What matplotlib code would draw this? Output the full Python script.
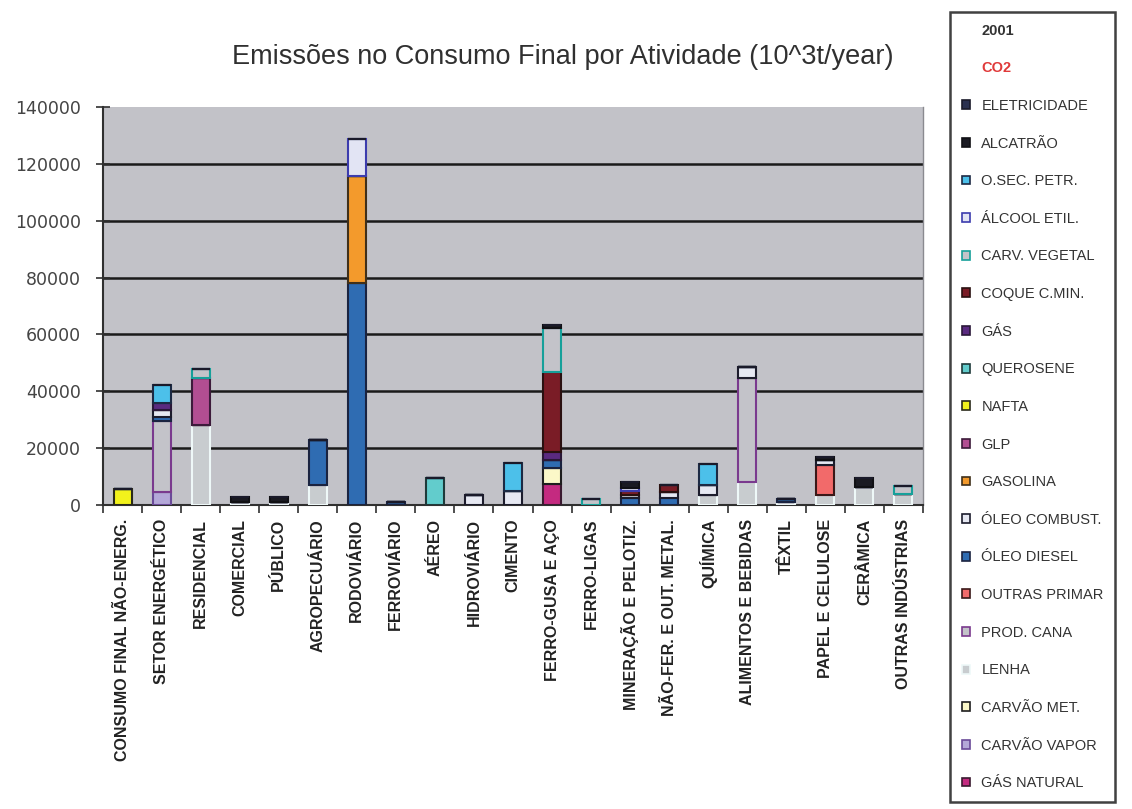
import matplotlib
matplotlib.use("Agg")
from matplotlib import pyplot as plt
from matplotlib.patches import Patch
import numpy as np

categories = [
    "CONSUMO FINAL NÃO-ENERG.", "SETOR ENERGÉTICO", "RESIDENCIAL", "COMERCIAL",
    "PÚBLICO", "AGROPECUÁRIO", "RODOVIÁRIO", "FERROVIÁRIO", "AÉREO",
    "HIDROVIÁRIO", "CIMENTO", "FERRO-GUSA E AÇO", "FERRO-LIGAS",
    "MINERAÇÃO E PELOTIZ.", "NÃO-FER. E OUT. METAL.", "QUÍMICA",
    "ALIMENTOS E BEBIDAS", "TÊXTIL", "PAPEL E CELULOSE", "CERÂMICA",
    "OUTRAS INDÚSTRIAS",
]

# CO2 emissions 2001 (10^3 t/year), one list per fuel, in category order
gas_natural   = [0, 0, 0, 0, 0, 0, 0, 0, 0, 0, 0, 7500, 0, 0, 0, 0, 0, 0, 0, 0, 0]
carvao_vapor  = [0, 4500, 0, 0, 0, 0, 0, 0, 0, 0, 0, 0, 0, 0, 0, 0, 0, 0, 0, 0, 0]
carvao_met    = [0, 0, 0, 0, 0, 0, 0, 0, 0, 0, 0, 5500, 0, 0, 0, 0, 0, 0, 0, 0, 0]
lenha         = [0, 0, 28000, 900, 900, 7000, 0, 0, 0, 0, 0, 0, 0, 0, 0, 3500, 8000, 900, 3500, 6500, 4000]
prod_cana     = [0, 25000, 0, 0, 0, 0, 0, 0, 0, 0, 0, 0, 0, 0, 0, 0, 36700, 0, 0, 0, 0]
outras_primar = [0, 0, 0, 0, 0, 0, 0, 0, 0, 0, 0, 0, 0, 0, 0, 0, 0, 0, 10500, 0, 0]
oleo_diesel   = [0, 1500, 0, 0, 0, 15800, 78000, 1200, 0, 0, 0, 2800, 0, 2300, 2600, 0, 0, 1300, 0, 0, 0]
oleo_combust  = [0, 2400, 0, 0, 0, 0, 0, 0, 0, 3500, 5000, 0, 0, 1200, 2000, 3500, 3800, 0, 1800, 0, 0]
gasolina      = [0, 0, 0, 0, 0, 0, 37700, 0, 0, 0, 0, 0, 0, 0, 0, 0, 0, 0, 0, 0, 0]
glp           = [0, 0, 16600, 0, 0, 0, 0, 0, 0, 0, 0, 0, 0, 0, 0, 0, 0, 0, 0, 0, 0]
nafta         = [5500, 0, 0, 0, 0, 0, 0, 0, 0, 0, 0, 0, 0, 0, 0, 0, 0, 0, 0, 0, 0]
querosene     = [0, 0, 0, 0, 0, 0, 0, 0, 9500, 0, 0, 0, 0, 0, 0, 0, 0, 0, 0, 0, 0]
gas           = [0, 2500, 0, 0, 0, 0, 0, 0, 0, 0, 0, 2800, 0, 0, 0, 0, 0, 0, 0, 0, 0]
coque_cmin    = [0, 0, 0, 0, 0, 0, 0, 0, 0, 0, 0, 28100, 0, 1400, 2400, 0, 0, 0, 0, 0, 0]
carv_vegetal  = [0, 0, 3200, 0, 0, 0, 0, 0, 0, 0, 0, 15500, 2200, 0, 0, 0, 0, 0, 0, 0, 2700]
alcool_etil   = [0, 0, 0, 0, 0, 0, 13000, 0, 0, 0, 0, 0, 0, 1100, 0, 0, 0, 0, 0, 0, 0]
o_sec_petr    = [0, 6300, 0, 0, 0, 0, 0, 0, 0, 0, 9800, 0, 0, 0, 0, 7400, 0, 0, 0, 0, 0]
alcatrao      = [0, 0, 0, 2000, 2000, 0, 0, 0, 0, 0, 0, 1100, 0, 2000, 0, 0, 0, 0, 1100, 3000, 0]
eletricidade  = [0] * 21

# bottom -> top stacking order (legend is shown reversed)
series = [
    ("GÁS NATURAL", gas_natural, "#c42a80", "#3a1a30"),
    ("CARVÃO VAPOR", carvao_vapor, "#b4a8d8", "#6a4a98"),
    ("CARVÃO MET.", carvao_met, "#fbf8c8", "#1e1e1e"),
    ("LENHA", lenha, "#c8cccf", "#eef8f8"),
    ("PROD. CANA", prod_cana, "#c3c3c9", "#7a3a8e"),
    ("OUTRAS PRIMAR", outras_primar, "#f26a6a", "#3a1818"),
    ("ÓLEO DIESEL", oleo_diesel, "#2f6cb2", "#1a2340"),
    ("ÓLEO COMBUST.", oleo_combust, "#e6e8f2", "#1c1c2c"),
    ("GASOLINA", gasolina, "#f39a2c", "#40301a"),
    ("GLP", glp, "#b24e92", "#3c1a3a"),
    ("NAFTA", nafta, "#f2f21c", "#2a2a1a"),
    ("QUEROSENE", querosene, "#62cccc", "#1e3a3a"),
    ("GÁS", gas, "#5a2a80", "#2a1838"),
    ("COQUE C.MIN.", coque_cmin, "#7a1c26", "#2a1010"),
    ("CARV. VEGETAL", carv_vegetal, "#c3c3c9", "#16a09a"),
    ("ÁLCOOL ETIL.", alcool_etil, "#e2e4f4", "#3c3cae"),
    ("O.SEC. PETR.", o_sec_petr, "#4cc0ea", "#1c2a44"),
    ("ALCATRÃO", alcatrao, "#1a1a22", "#101014"),
    ("ELETRICIDADE", eletricidade, "#2a3050", "#1a1a2a"),
]

plt.rcParams["font.family"] = ["Liberation Sans", "DejaVu Sans"]

fig = plt.figure(figsize=(11.32, 8.09), dpi=100)
ax = fig.add_axes([103 / 1132, 1 - 505 / 809, 820 / 1132, 398 / 809])
ax.set_facecolor("#c2c2c8")

x = np.arange(len(categories))
bottom = np.zeros(len(categories))
handles = []
for name, vals, fc, ec in series:
    vals = np.array(vals, dtype=float)
    ax.bar(x, vals, bottom=bottom, width=0.46, color=fc, edgecolor=ec,
           linewidth=1.5, zorder=3)
    bottom += vals
    handles.append(Patch(facecolor=fc, edgecolor=ec, linewidth=1.2, label=name))

ax.set_xlim(-0.5, len(categories) - 0.5)
ax.set_ylim(0, 140000)
ax.set_yticks(np.arange(0, 140001, 20000))
ax.yaxis.grid(True, color="#1a1a1a", linewidth=1.8, zorder=1)
ax.set_axisbelow(True)
ax.get_ygridlines()[-1].set_visible(False)

ax.tick_params(axis="y", direction="inout", length=10, width=1.2,
               colors="#303030", labelsize=12.5, pad=11)
for lbl in ax.get_yticklabels():
    lbl.set_family("DejaVu Sans")
    lbl.set_color("#444444")

ax.set_xticks(x)
ax.set_xticklabels(categories, rotation=90, fontsize=11.5, fontweight="bold",
                   color="#222222", va="top")
ax.tick_params(axis="x", length=0, pad=10)
ax.set_xticks(np.arange(-0.5, len(categories) + 0.5, 1), minor=True)
ax.tick_params(axis="x", which="minor", direction="out", length=6, width=1.2,
               color="#303030")

ax.spines["top"].set_visible(False)
ax.spines["right"].set_color("#8a8a90")
ax.spines["right"].set_linewidth(1.0)
ax.spines["left"].set_color("#303030")
ax.spines["left"].set_linewidth(1.5)
ax.spines["bottom"].set_color("#303030")
ax.spines["bottom"].set_linewidth(1.5)

fig.text(563 / 1132, 1 - 57 / 809,
         "Emissões no Consumo Final por Atividade (10^3t/year)",
         ha="center", va="center", fontsize=19.5, color="#303030")

# legend: two header rows then fuels, top of stack first
head1 = Patch(facecolor="none", edgecolor="none", label="2001")
head2 = Patch(facecolor="none", edgecolor="none", label="CO2")
leg = fig.legend(handles=[head1, head2] + handles[::-1],
                 loc="upper left", bbox_to_anchor=(950 / 1132, 1 - 12 / 809),
                 frameon=True, fancybox=False, fontsize=10.5,
                 handlelength=0.55, handleheight=0.55, handletextpad=0.8,
                 labelspacing=1.62, borderpad=0.8, borderaxespad=0)
leg.get_frame().set_edgecolor("#111111")
leg.get_frame().set_linewidth(1.8)
texts = leg.get_texts()
texts[0].set_fontweight("bold")
texts[0].set_color("#333333")
texts[1].set_fontweight("bold")
texts[1].set_color("#e03a3a")
for t in texts[2:]:
    t.set_color("#333333")

fig.savefig("out.png", dpi=100, facecolor="white")
